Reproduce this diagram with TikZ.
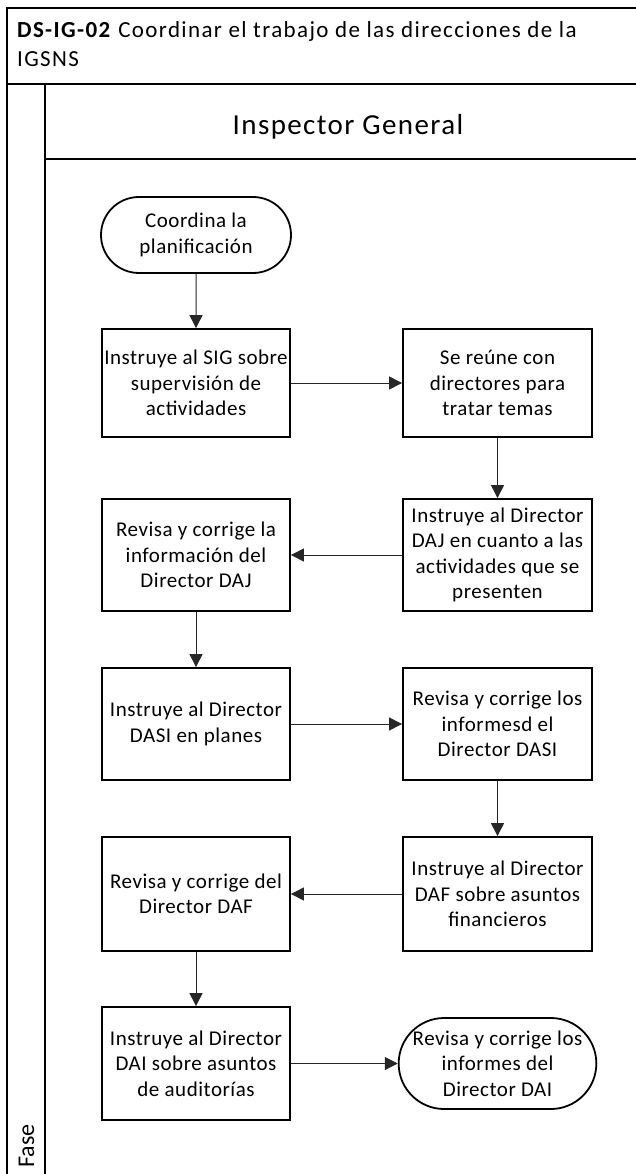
\documentclass[tikz,border=0pt]{standalone}
\usepackage{fontspec}
\setmainfont{Carlito}
\newfontfamily\titlefont[LetterSpace=6]{Carlito}
\newfontfamily\lanefont[LetterSpace=4.8]{Carlito}
\newfontfamily\boxfont[LetterSpace=2.5]{Carlito}
\usetikzlibrary{arrows.meta,shapes.misc}
\begin{document}
\begin{tikzpicture}[x=1pt,y=-1pt,
  frameline/.style={line width=1.8pt,black},
  boxtext/.style={font=\boxfont\fontsize{21}{25.5}\selectfont,align=center,inner sep=0pt},
  stepbox/.style={boxtext,draw,line width=1.8pt,rectangle,minimum width=188pt,minimum height=112pt},
  terminal/.style={boxtext,draw,line width=1.8pt,rounded rectangle,minimum width=190pt,minimum height=76pt},
  flow/.style={line width=1pt,black!85,-{Triangle[length=13pt,width=13pt]}}
]
\useasboundingbox (0,0) rectangle (636,1174);
\clip (0,0) rectangle (636,1174);

% pool frame, title band, lane strip and lane header
\draw[frameline] (660,8) -- (7,8) -- (7,1190);
\draw[frameline] (7,84) -- (660,84);
\draw[frameline] (45,84) -- (45,1190);
\draw[frameline] (45,159) -- (660,159);

\node[anchor=base west,inner sep=0pt,font=\titlefont\fontsize{23}{31}\selectfont] (title1) at (17,38)
  {\textbf{DS-IG-02} Coordinar el trabajo de las direcciones de la};
\node[anchor=base west,inner sep=0pt,font=\titlefont\fontsize{23}{31}\selectfont] (title2) at (17,67) {IGSNS};
\node[anchor=base,inner sep=0pt,font=\lanefont\fontsize{29}{34}\selectfont] (lane) at (348,135) {Inspector General};
\node[anchor=base west,inner sep=0pt,rotate=90,font=\fontsize{24}{30}\selectfont] (phase) at (34,1168) {Fase};

% process steps
\node[terminal] (start) at (196,235) {Coordina la\\planificación};
\node[stepbox,minimum height=108pt] (s1) at (196,383) {Instruye al SIG sobre\\supervisión de\\actividades};
\node[stepbox,minimum width=189pt,minimum height=108pt] (s2) at (497.5,383) {Se reúne con\\directores para\\tratar temas};
\node[stepbox,minimum width=189pt] (s3) at (497.5,555) {Instruye al Director\\DAJ en cuanto a las\\actividades que se\\presenten};
\node[stepbox] (s4) at (196,555) {Revisa y corrige la\\información del\\Director DAJ};
\node[stepbox] (s5) at (196,724) {Instruye al Director\\DASI en planes};
\node[stepbox,minimum width=189pt] (s6) at (497.5,724) {Revisa y corrige los\\informesd el\\Director DASI};
\node[stepbox,minimum width=189pt,minimum height=114pt] (s7) at (497.5,894) {Instruye al Director\\DAF sobre asuntos\\financieros};
\node[stepbox,minimum height=114pt] (s8) at (196,894) {Revisa y corrige del\\Director DAF};
\node[stepbox,minimum height=113pt] (s9) at (196,1063.5) {Instruye al Director\\DAI sobre asuntos\\de auditorías};
\node[terminal,minimum width=189pt,minimum height=91pt] (end) at (497.5,1063.5) {Revisa y corrige los\\informes del\\Director DAI};

% flow connectors
\draw[flow] (start) -- (s1);
\draw[flow] (s1) -- (s2);
\draw[flow] (s2) -- (s3);
\draw[flow] (s3) -- (s4);
\draw[flow] (s4) -- (s5);
\draw[flow] (s5) -- (s6);
\draw[flow] (s6) -- (s7);
\draw[flow] (s7) -- (s8);
\draw[flow] (s8) -- (s9);
\draw[flow] (s9) -- (end);
\end{tikzpicture}
\end{document}
